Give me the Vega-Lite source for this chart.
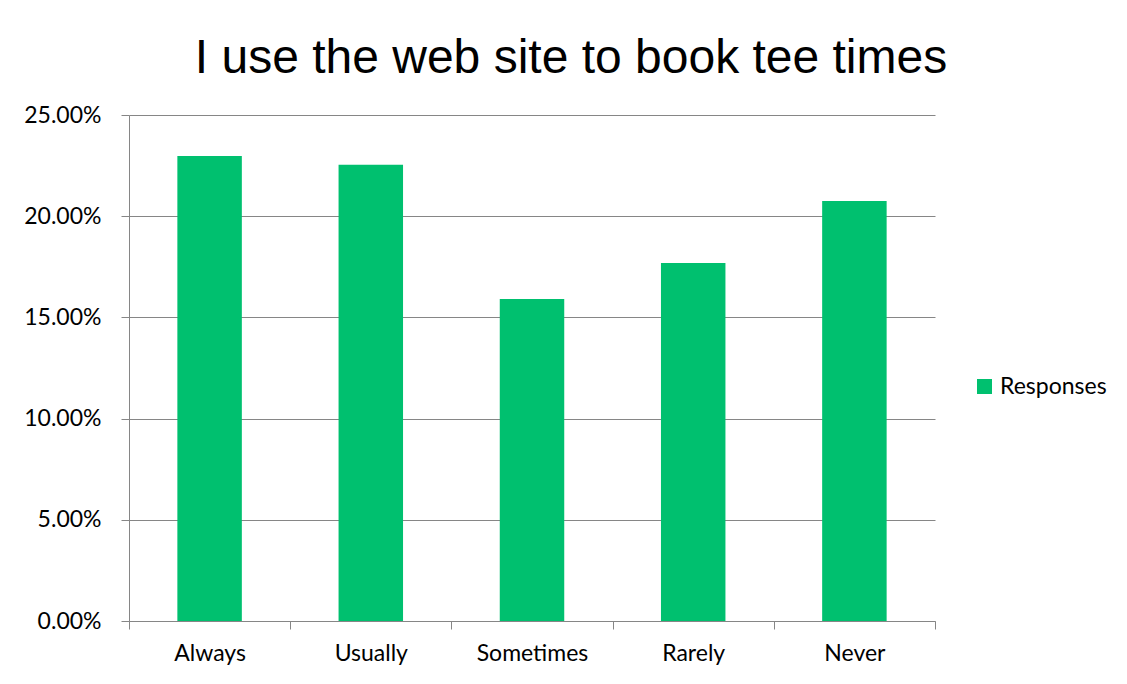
{
  "$schema": "https://vega.github.io/schema/vega-lite/v6.json",
  "width": 806,
  "height": 506,
  "autosize": {"type": "none"},
  "padding": {"left": 129, "top": 115, "right": 192, "bottom": 63},
  "background": "#ffffff",
  "title": {
    "text": "I use the web site to book tee times",
    "font": "Liberation Sans",
    "fontSize": 48,
    "fontWeight": "normal",
    "color": "#000000",
    "anchor": "middle",
    "dx": 39,
    "offset": 21
  },
  "data": {
    "values": [
      {"category": "Always", "value": 0.2297, "series": "Responses"},
      {"category": "Usually", "value": 0.2254, "series": "Responses"},
      {"category": "Sometimes", "value": 0.1591, "series": "Responses"},
      {"category": "Rarely", "value": 0.1769, "series": "Responses"},
      {"category": "Never", "value": 0.2075, "series": "Responses"}
    ]
  },
  "mark": {"type": "bar", "width": {"band": 0.4}},
  "encoding": {
    "x": {
      "field": "category",
      "type": "nominal",
      "sort": null,
      "scale": {"paddingInner": 0, "paddingOuter": 0},
      "axis": {
        "title": null,
        "labelAngle": 0,
        "tickBand": "extent",
        "domainColor": "#868686",
        "tickColor": "#868686",
        "tickSize": 8,
        "labelPadding": 13,
        "labelFont": "Lato",
        "labelFontSize": 23,
        "labelColor": "#000000",
        "labelBaseline": "top"
      }
    },
    "y": {
      "field": "value",
      "type": "quantitative",
      "scale": {"domain": [0, 0.25], "nice": false},
      "axis": {
        "title": null,
        "values": [0, 0.05, 0.1, 0.15, 0.2, 0.25],
        "format": ".2%",
        "grid": true,
        "gridColor": "#868686",
        "gridWidth": 1,
        "domainColor": "#868686",
        "tickColor": "#868686",
        "tickSize": 8,
        "labelPadding": 20,
        "labelFont": "Lato",
        "labelFontSize": 23,
        "labelColor": "#000000"
      }
    },
    "color": {
      "field": "series",
      "type": "nominal",
      "scale": {"range": ["#00C06F"]},
      "legend": {
        "title": null,
        "orient": "none",
        "legendX": 844,
        "legendY": 260,
        "symbolType": "square",
        "symbolSize": 225,
        "symbolStrokeWidth": 0,
        "labelFont": "Lato",
        "labelFontSize": 23,
        "labelColor": "#000000",
        "labelOffset": 4
      }
    }
  },
  "config": {
    "view": {"stroke": null}
  }
}
